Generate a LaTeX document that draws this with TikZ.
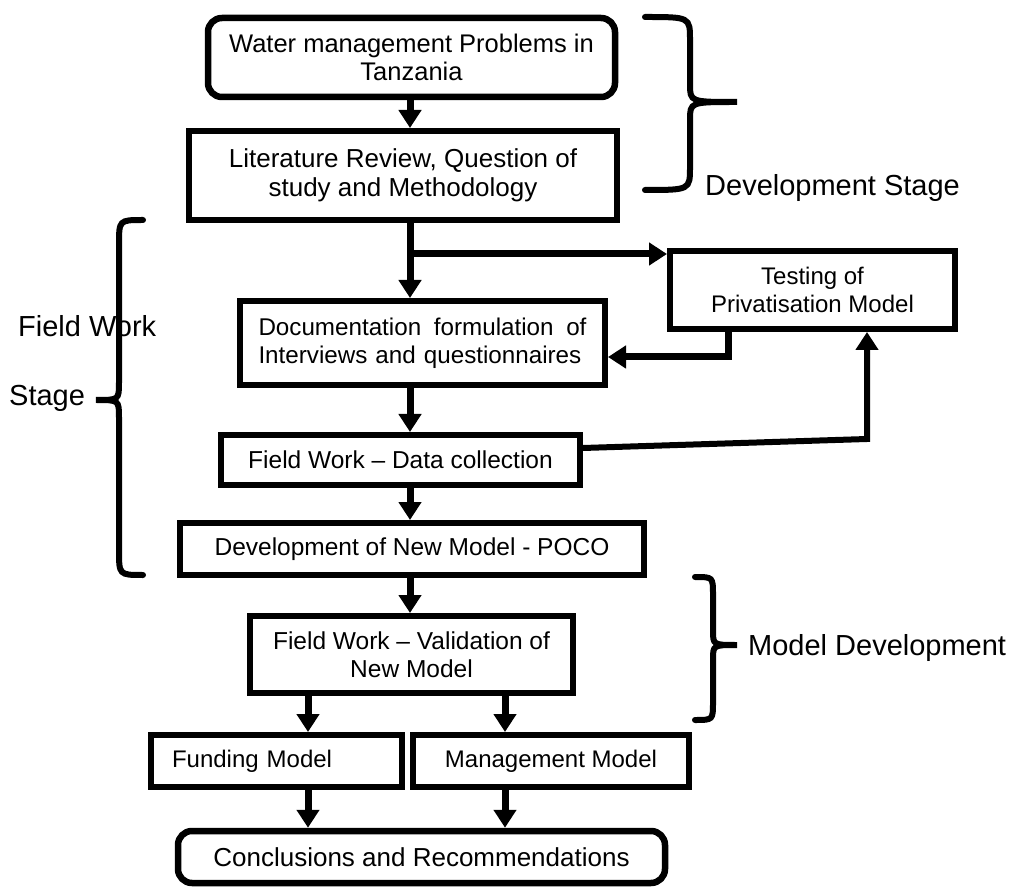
\documentclass[tikz,border=0pt]{standalone}
\usepackage{fontspec}
\setmainfont{Liberation Sans}
\usetikzlibrary{arrows.meta}

\tikzset{
  box/.style={draw, line width=6pt, inner sep=0pt, align=center,
    font=\fontsize{24.5}{28}\selectfont},
  roundbox/.style={box, rounded corners=14pt, line width=6.5pt,
    font=\fontsize{25.5}{28}\selectfont},
  arr/.style={line width=7pt, -{Triangle[length=18pt,width=22pt]}},
  bracepath/.style={line width=6pt, line cap=round},
  stagelabel/.style={inner sep=0pt, font=\fontsize{29}{32}\selectfont},
}

\begin{document}
\begin{tikzpicture}[x=1pt, y=-1pt]
  \fill[white] (0,0) rectangle (1015,890);
  \useasboundingbox (0,0) rectangle (1015,890);

  % main boxes
  \node[roundbox, minimum width=407pt, minimum height=79pt] (water) at (411.5,57.5)
    {Water management Problems in\\Tanzania};
  \node[box, minimum width=428pt, minimum height=89pt, font=\fontsize{26}{29}\selectfont] (lit) at (403,175.5)
    {Literature Review, Question of\\study and Methodology};
  \node[box, minimum width=285pt, minimum height=78pt, font=\fontsize{24}{28}\selectfont] (test) at (812.5,290)
    {Testing of\\Privatisation Model};
  \node[box, minimum width=365pt, minimum height=84pt, text width=328pt, align=left,
    font=\fontsize{24.2}{28}\selectfont] (doc) at (422.5,343)
    {Documentation\hfill formulation\hfill of\\\mbox{Interviews and questionnaires}};
  \node[box, minimum width=359pt, minimum height=50pt] (fw) at (400.5,460)
    {Field Work -- Data collection};
  \node[box, minimum width=464pt, minimum height=52pt] (dev) at (412,549)
    {Development of New Model - POCO};
  \node[box, minimum width=323pt, minimum height=77pt] (val) at (411.5,654.5)
    {Field Work -- Validation of\\New Model};
  \node[box, minimum width=251pt, minimum height=52pt, text width=209pt, align=left,
    font=\fontsize{24}{28}\selectfont] (fund) at (276.5,761) {Funding Model};
  \node[box, minimum width=276pt, minimum height=52pt, font=\fontsize{24}{28}\selectfont] (mgmt) at (551,761)
    {Management Model};
  \node[roundbox, minimum width=487pt, minimum height=52pt, font=\fontsize{26}{28}\selectfont] (concl) at (421.5,857)
    {Conclusions and Recommendations};

  % helper points
  \coordinate (spine) at (410,0);
  \coordinate (split) at (410,254);
  \coordinate (ret) at (728,357);
  \coordinate (bend) at (867,439);
  \coordinate (lx) at (308,0);
  \coordinate (rx) at (505,0);

  % arrows
  \draw[arr] (water.south -| spine) -- (lit.north -| spine);
  \draw[arr] (lit.south -| spine) -- (doc.north -| spine);
  \draw[arr] (split) -- (split -| test.west);
  \draw[arr] (ret |- test.south) -- (ret) -- (ret -| doc.east);
  \draw[arr] (doc.south -| spine) -- (fw.north -| spine);
  \draw[arr, line width=6pt] ([yshift=12pt]fw.east) -- (bend) -- (bend |- test.south);
  \draw[arr] (fw.south -| spine) -- (dev.north -| spine);
  \draw[arr] (dev.south -| spine) -- (val.north -| spine);
  \draw[arr] (val.south -| lx) -- (fund.north -| lx);
  \draw[arr] (val.south -| rx) -- (mgmt.north -| rx);
  \draw[arr] (fund.south -| lx) -- (concl.north -| lx);
  \draw[arr] (mgmt.south -| rx) -- (concl.north -| rx);

  % stage labels
  \node[stagelabel, anchor=west] (devstage) at (705,188) {Development Stage};
  \node[stagelabel, anchor=west] (fwstage) at (18,326) {Field Work};
  \node[stagelabel, anchor=west] (stage) at (9,398) {Stage};
  \node[stagelabel, anchor=west] (moddev) at (748,648) {Model Development};

  % braces
  \draw[bracepath] (645,17) .. controls (690,17) .. (690,40) -- (690,84)
    .. controls (690,102) .. (737,102) .. controls (690,102) .. (690,120)
    -- (690,167) .. controls (690,190) .. (645,190);
  \draw[bracepath] (143,220) .. controls (119,220) .. (119,245) -- (119,382)
    .. controls (119,400) .. (96,400) .. controls (119,400) .. (119,418)
    -- (119,550) .. controls (119,575) .. (143,575);
  \draw[bracepath] (695,577) .. controls (713,577) .. (713,595) -- (713,630)
    .. controls (713,645) .. (737,645) .. controls (713,645) .. (713,660)
    -- (713,702) .. controls (713,720) .. (695,720);
\end{tikzpicture}
\end{document}
